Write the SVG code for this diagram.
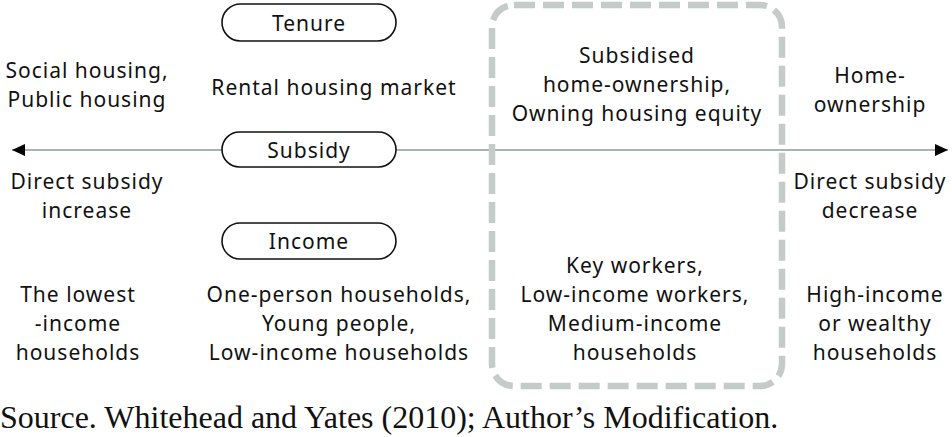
<svg xmlns="http://www.w3.org/2000/svg" width="952" height="437" viewBox="0 0 952 437">
<defs>
<style>
.t{font-family:"Noto Sans","Open Sans","DejaVu Sans",sans-serif;font-size:21px;letter-spacing:1px;fill:#111;text-anchor:middle}
.pill{fill:#fff;stroke:#111;stroke-width:1.6}
.src{font-family:"Liberation Serif","Times New Roman",serif;font-size:32px;fill:#111}
</style>
<marker id="ah" viewBox="0 0 13 12" refX="13" refY="6" markerWidth="13" markerHeight="12" markerUnits="userSpaceOnUse" orient="auto-start-reverse">
<path d="M0,0 L13,6 L0,12 Z" fill="#000"/>
</marker>
</defs>
<rect width="952" height="437" fill="#fff"/>
<g id="connectors">
<line x1="12" y1="150" x2="948" y2="150" stroke="#8c9a98" stroke-width="1.6" marker-start="url(#ah)" marker-end="url(#ah)"/>
</g>
<g id="box">
<rect x="492" y="5" width="290" height="381" rx="22" fill="none" stroke="#c4cbc9" stroke-width="6.5" stroke-dasharray="21 8"/>
</g>
<g id="tenure"><rect class="pill" x="222" y="4" width="174" height="37" rx="18.5"/><text class="t" x="309" y="31">Tenure</text></g>
<g id="subsidy"><rect class="pill" x="222" y="132" width="174" height="35" rx="17.5"/><text class="t" x="309" y="158">Subsidy</text></g>
<g id="income"><rect class="pill" x="222" y="223" width="174" height="36" rx="18"/><text class="t" x="309" y="249">Income</text></g>
<g id="social"><text class="t" x="87" y="78">Social housing,</text><text class="t" x="87" y="107">Public housing</text></g>
<g id="rental"><text class="t" x="334" y="95">Rental housing market</text></g>
<g id="subsidised"><text class="t" x="637" y="63">Subsidised</text><text class="t" x="637" y="92">home-ownership,</text><text class="t" x="637" y="121">Owning housing equity</text></g>
<g id="homeown"><text class="t" x="870" y="83">Home-</text><text class="t" x="870" y="112">ownership</text></g>
<g id="dsi"><text class="t" x="87" y="189">Direct subsidy</text><text class="t" x="87" y="218">increase</text></g>
<g id="dsd"><text class="t" x="870" y="189">Direct subsidy</text><text class="t" x="870" y="218">decrease</text></g>
<g id="lowest"><text class="t" x="78" y="302">The lowest</text><text class="t" x="78" y="331">-income</text><text class="t" x="78" y="360">households</text></g>
<g id="oneperson"><text class="t" x="339" y="302">One-person households,</text><text class="t" x="339" y="331">Young people,</text><text class="t" x="339" y="360">Low-income households</text></g>
<g id="keyworkers"><text class="t" x="635" y="273">Key workers,</text><text class="t" x="635" y="302">Low-income workers,</text><text class="t" x="635" y="331">Medium-income</text><text class="t" x="635" y="360">households</text></g>
<g id="highincome"><text class="t" x="875" y="302">High-income</text><text class="t" x="875" y="331">or wealthy</text><text class="t" x="875" y="360">households</text></g>
<text class="src" x="0" y="428">Source. Whitehead and Yates (2010); Author’s Modification.</text>
</svg>
